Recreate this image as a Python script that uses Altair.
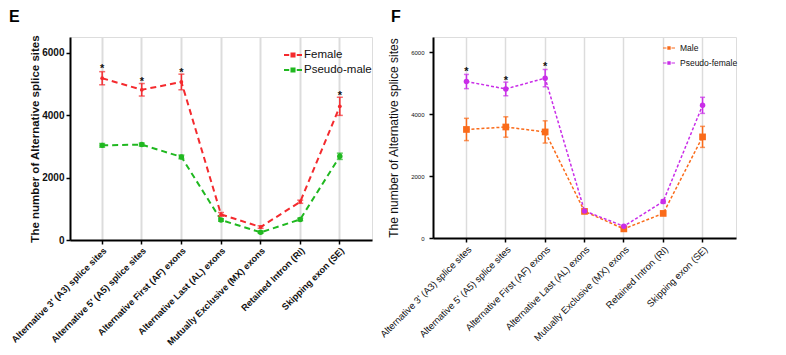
import altair as alt
import pandas as pd

categories = [
    "Alternative 3' (A3) splice sites",
    "Alternative 5' (A5) splice sites",
    "Alternative First (AF) exons",
    "Alternative Last (AL) exons",
    "Mutually Exclusive (MX) exons",
    "Retained Intron (RI)",
    "Skipping exon (SE)",
]

female = [5180, 4810, 5060, 820, 415, 1225, 4280]
female_err = [210, 200, 250, 60, 40, 50, 290]
pseudo_male = [3030, 3055, 2660, 640, 245, 660, 2680]
pseudo_male_err = [60, 50, 60, 40, 30, 40, 100]

male = [3510, 3590, 3430, 860, 295, 795, 3270]
male_err = [360, 330, 360, 50, 40, 60, 340]
pseudo_female = [5060, 4820, 5170, 875, 380, 1180, 4290]
pseudo_female_err = [230, 220, 280, 40, 30, 60, 260]

star_cats_e = [categories[0], categories[1], categories[2], categories[6]]
star_y_e = [5560, 5140, 5450, 4710]
star_cats_f = [categories[0], categories[1], categories[2]]
star_y_f = [5480, 5190, 5620]

groups_e = ["Female", "Pseudo-male"]
colors_e = ["#F42A2E", "#20B820"]
groups_f = ["Male", "Pseudo-female"]
colors_f = ["#FA6B1A", "#C92DE8"]

FONT = "Liberation Sans"


def make_df(groups, vals, errs):
    rows = []
    for g, v, e in zip(groups, vals, errs):
        for c, vv, ee in zip(categories, v, e):
            rows.append({"cat": c, "group": g, "value": vv, "lo": vv - ee, "hi": vv + ee})
    return pd.DataFrame(rows)


df_e = make_df(groups_e, [female, pseudo_male], [female_err, pseudo_male_err])
df_f = make_df(groups_f, [male, pseudo_female], [male_err, pseudo_female_err])
stars_e = pd.DataFrame({"cat": star_cats_e, "y": star_y_e})
stars_f = pd.DataFrame({"cat": star_cats_f, "y": star_y_f})

LEG_PATH = ("M-1,-0.1H-0.42V0.1H-1Z "
            "M-0.28,-0.28H0.28V0.28H-0.28Z "
            "M0.42,-0.1H1V0.1H0.42Z")


def panel(df, stars, groups, colors, letter, bold, w, h, pad, lw, dash,
          first_size, first_shape, tick_fs, xlab_fs, ytitle_fs, ytitle_pad,
          ylab_pad, leg_fs, leg_size, leg_x, leg_y, leg_offset, leg_rowpad,
          grid_w, title_offset, title_dx, err_w, cap):
    weight = "bold" if bold else "normal"
    xenc = alt.X(
        "cat:N", sort=categories,
        scale=alt.Scale(domain=categories, padding=pad),
        axis=alt.Axis(
            title=None, labelAngle=-45, labelAlign="right", labelBaseline="top",
            labelFont=FONT, labelFontSize=xlab_fs, labelFontWeight=weight,
            labelColor="#111", labelPadding=2, grid=True, gridColor="#dcdcdc",
            gridWidth=grid_w, domainColor="black", domainWidth=2,
            tickColor="black", tickWidth=1.5, tickSize=4, labelLimit=300,
        ),
    )
    yscale = alt.Scale(domain=[0, 6500], nice=False)
    yaxis = alt.Axis(
        title="The number of Alternative splice sites", titleFont=FONT,
        titleFontSize=ytitle_fs, titleFontWeight=weight, titleColor="#111",
        values=[0, 2000, 4000, 6000], format="d", labelFont=FONT,
        labelFontSize=tick_fs, labelFontWeight=weight, labelColor="#111",
        grid=False, domainColor="black", domainWidth=2, tickColor="black",
        tickWidth=1.5, tickSize=4, titlePadding=ytitle_pad, labelPadding=ylab_pad,
    )
    cscale = alt.Scale(domain=groups, range=colors)
    base = alt.Chart(df)
    line = base.mark_line(strokeWidth=lw, strokeDash=dash).encode(
        x=xenc,
        y=alt.Y("value:Q", scale=yscale, axis=yaxis),
        color=alt.Color("group:N", scale=cscale, legend=None),
        detail="group:N",
    )
    rule = base.mark_rule(strokeWidth=err_w).encode(
        x=alt.X("cat:N", sort=categories),
        y="lo:Q", y2="hi:Q",
        color=alt.Color("group:N", scale=cscale, legend=None),
    )
    caps_lo = base.mark_tick(size=cap, thickness=err_w, orient="horizontal").encode(
        x=alt.X("cat:N", sort=categories), y="lo:Q",
        color=alt.Color("group:N", scale=cscale, legend=None),
    )
    caps_hi = base.mark_tick(size=cap, thickness=err_w, orient="horizontal").encode(
        x=alt.X("cat:N", sort=categories), y="hi:Q",
        color=alt.Color("group:N", scale=cscale, legend=None),
    )
    pts1 = base.transform_filter(alt.datum.group == groups[0]).mark_point(
        filled=True, opacity=1, size=first_size, shape=first_shape
    ).encode(
        x=alt.X("cat:N", sort=categories), y="value:Q",
        color=alt.Color("group:N", scale=cscale, legend=None),
    )
    pts2 = base.transform_filter(alt.datum.group == groups[1]).mark_point(
        filled=True, opacity=1
    ).encode(
        x=alt.X("cat:N", sort=categories), y="value:Q",
        color=alt.Color(
            "group:N", scale=cscale,
            legend=alt.Legend(
                title=None, orient="none", legendX=leg_x, legendY=leg_y,
                symbolType=LEG_PATH, symbolSize=leg_size, symbolStrokeWidth=0,
                labelFont=FONT, labelFontSize=leg_fs, labelColor="#111",
                labelOffset=leg_offset, rowPadding=leg_rowpad, padding=0,
            ),
        ),
    )
    star = alt.Chart(stars).mark_text(
        text="*", font=FONT, fontSize=11, fontWeight="bold", color="#111",
        baseline="alphabetic", dy=6,
    ).encode(x=alt.X("cat:N", sort=categories), y="y:Q")
    return alt.layer(line, rule, caps_lo, caps_hi, pts1, pts2, star).properties(
        width=w, height=h,
        title=alt.TitleParams(letter, anchor="start", frame="group", dx=title_dx,
                              font=FONT, fontSize=16, fontWeight="bold",
                              color="black", offset=title_offset),
    ).resolve_scale(color="independent")


pe = panel(df_e, stars_e, groups_e, colors_e, "E", True, 302, 203, 0.624, 2, [6, 4],
           14, "circle", 10, 9.2, 11.5, 1, 2, 11.5, 324, 214, 9, 2, 0,
           2, 10, -61, 1.5, 6)
pf = panel(df_f, stars_f, groups_f, colors_f, "F", False, 303, 201, 0.7, 1.5, [3, 2],
           45, "square", 6, 9.5, 12, 10, 5, 8.5, 144, 230, 5, 5, 4,
           1.5, 12, -42, 1.5, 5)

chart = alt.hconcat(pe, pf, spacing=4).resolve_scale(
    color="independent"
).resolve_legend(color="independent").properties(
    padding=0
).configure_view(
    stroke="#222", strokeWidth=1.8
).configure_point(size=40).configure(background="white")

chart.save("out.html", embed_options={"renderer": "svg", "actions": False})
